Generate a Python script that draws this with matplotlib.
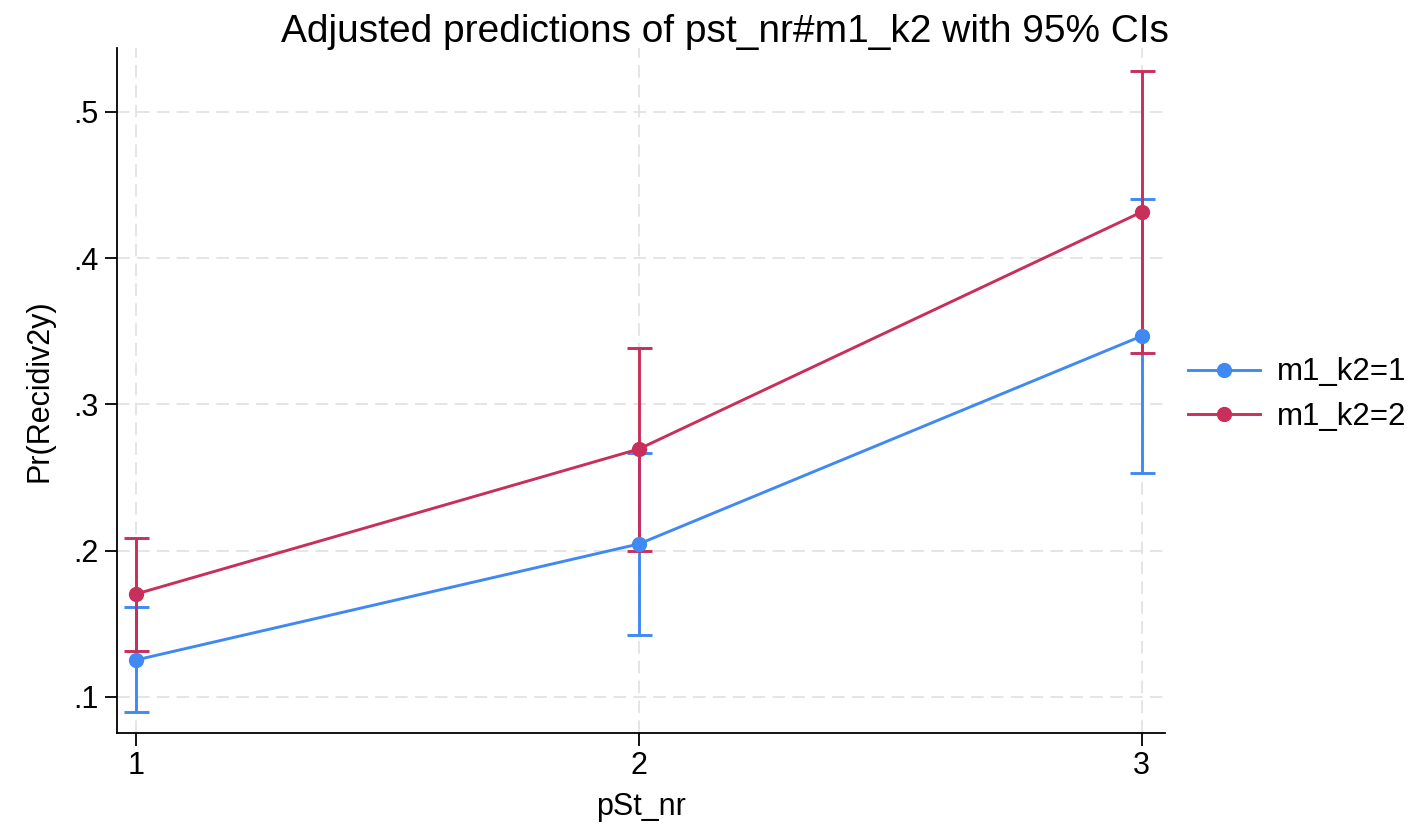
import matplotlib
matplotlib.use("Agg")
import matplotlib.pyplot as plt

plt.rcParams['font.family'] = ['Liberation Sans', 'DejaVu Sans']

x_vals = [1, 2, 3]
series_labels = ["m1_k2=1", "m1_k2=2"]
est_1 = [0.1253, 0.2046, 0.3467]
lo_1 = [0.0897, 0.1424, 0.2530]
hi_1 = [0.1615, 0.2668, 0.4405]
est_2 = [0.1704, 0.2695, 0.4315]
lo_2 = [0.1314, 0.2000, 0.3350]
hi_2 = [0.2087, 0.3385, 0.5280]
y_ticks = [0.1, 0.2, 0.3, 0.4, 0.5]
y_ticklabels = [".1", ".2", ".3", ".4", ".5"]
x_ticks = [1, 2, 3]
x_ticklabels = ["1", "2", "3"]

colors = ["#4189f2", "#c82f5b"]

fig = plt.figure(figsize=(14.24, 8.27), dpi=100)
ax = fig.add_axes([0.0822, 0.1137, 0.818 - 0.0822, 0.942 - 0.1137])

for est, lo, hi, c, lab in [(est_1, lo_1, hi_1, colors[0], series_labels[0]),
                             (est_2, lo_2, hi_2, colors[1], series_labels[1])]:
    yerr = [[e - l for e, l in zip(est, lo)], [h - e for e, h in zip(est, hi)]]
    ax.errorbar(x_vals, est, yerr=yerr, fmt='none', ecolor=c, elinewidth=2.1,
                capsize=9, capthick=2.1, zorder=3)
    ax.plot(x_vals, est, color=c, lw=2.1, marker='o', markersize=10,
            label=lab, zorder=4)

ax.set_xlim(0.962, 3.046)
ax.set_ylim(0.0754, 0.5436)
ax.set_yticks(y_ticks)
ax.set_yticklabels(y_ticklabels)
ax.set_xticks(x_ticks)
ax.set_xticklabels(x_ticklabels)
ax.tick_params(axis='both', labelsize=22, length=9, width=1.3, direction='out', pad=4)
ax.grid(True, color='#e3e3e3', linestyle=(0, (7, 4)), linewidth=1.3)
ax.set_axisbelow(True)
for s in ['top', 'right']:
    ax.spines[s].set_visible(False)
for s in ['left', 'bottom']:
    ax.spines[s].set_linewidth(1.3)

ax.set_xlabel("pSt_nr", fontsize=22, labelpad=8)
ax.set_ylabel("Pr(Recidiv2y)", fontsize=22, labelpad=14)
fig.text(724.5 / 1424, 1 - 42 / 827, "Adjusted predictions of pst_nr#m1_k2 with 95% CIs",
         fontsize=28, ha='center', va='baseline')

leg = ax.legend(loc='center left', bbox_to_anchor=(1188 / 1424, 1 - 394.5 / 827),
                bbox_transform=fig.transFigure, frameon=False, borderpad=0,
                borderaxespad=0, fontsize=22.5, handlelength=2.3,
                handletextpad=0.55, labelspacing=0.45)

fig.savefig("out.png", dpi=100)
